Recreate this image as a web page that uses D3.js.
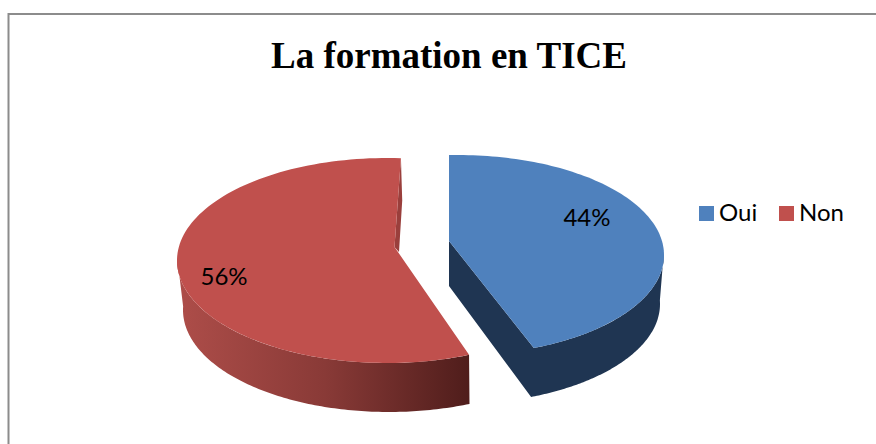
<!DOCTYPE html>
<html><head><meta charset="utf-8">
<script src="https://cdn.jsdelivr.net/npm/d3@7"></script>
<style>html,body{margin:0;padding:0;background:#fff;overflow:hidden}svg{display:block}</style>
</head><body><div id="c"></div>
<script>
const categories = ["Oui", "Non"];
const values = [44, 56];
const colors = ["#4F81BD", "#C0504D"];
const titleText = "La formation en TICE";

const W = 876, H = 444;
const svg = d3.select("#c").append("svg").attr("width", W).attr("height", H);
const defs = svg.append("defs");
const grad = defs.append("linearGradient").attr("id", "redWall").attr("gradientUnits", "userSpaceOnUse")
  .attr("x1", 180).attr("x2", 470).attr("y1", 0).attr("y2", 0);
grad.append("stop").attr("offset", 0).attr("stop-color", "#AD4D49");
grad.append("stop").attr("offset", 0.5).attr("stop-color", "#893A37");
grad.append("stop").attr("offset", 1).attr("stop-color", "#4F1D1B");

// frame
svg.append("path").attr("d", `M8.5,${H}V14H${W}`).attr("fill", "none").attr("stroke", "#8C8C8C").attr("stroke-width", 2);

svg.append("text").attr("x", 449).attr("y", 68).attr("text-anchor", "middle")
  .attr("font-family", "Liberation Serif").attr("font-weight", "bold").attr("font-size", 37).attr("fill", "#000").text(titleText);

// pie layout in data order, clockwise from the top
const arcs = d3.pie().sort(null)(values);

// perspective view of each exploded slice
const views = [
  { top: {cx:458, cy:255, rx:206, ry:100}, low: {cx:456, cy:304, rx:204, ry:100},
    apex:[449,241], lowApex:[449,286], rim:[-2.5,158.4], wall:[158.4,88], wallFill:"#1F3552", label:[0.626,-0.37] },
  { top: {cx:387, cy:260.5, rx:210, ry:102.5}, low: {cx:389, cy:310, rx:206, ry:102},
    apex:[394.5,247], lowApex:[399,252], rim:[157,363.8], wall:[157,272], wallFill:"url(#redWall)", label:[-0.776,0.157] }
];
const rad = d => d * Math.PI / 180;
const onEllipse = (e, deg) => [e.cx + e.rx * Math.sin(rad(deg)), e.cy - e.ry * Math.cos(rad(deg))];
const sample = (a, b) => d3.range(0, 121).map(i => a + (b - a) * i / 120);
const line = d3.line();

const order = [1, 0];
order.forEach(i => {
  const v = views[i], d = arcs[i];
  const rimScale = d3.scaleLinear().domain([d.startAngle, d.endAngle]).range(v.rim);
  const rimPts = sample(d.startAngle, d.endAngle).map(a => onEllipse(v.top, rimScale(a)));
  const g = svg.append("g");
  const upper = sample(v.wall[0], v.wall[1]).map(a => onEllipse(v.top, a));
  const lower = sample(v.wall[1], v.wall[0]).map(a => onEllipse(v.low, a));
  if (i === 0) {
    // blue: cut face and outer wall as one shape
    g.append("path").attr("d", line(upper.concat(lower, [v.lowApex, v.apex])) + "Z").attr("fill", v.wallFill);
  } else {
    g.append("path").attr("d", line(upper.concat(lower)) + "Z").attr("fill", v.wallFill);
    // thin cut face at the back of the red slice
    const s = rimPts[rimPts.length - 1];
    g.append("path").attr("d", line([s, [s[0] + 1.3, s[1] + 42], v.lowApex, v.apex]) + "Z").attr("fill", "#9A3F3C");
  }
  // top face
  g.append("path").attr("d", line(rimPts.concat([v.apex])) + "Z").attr("fill", colors[i]);
});

// data labels
views.forEach((v, i) => {
  svg.append("text")
    .attr("x", v.top.cx + v.top.rx * v.label[0]).attr("y", v.top.cy + v.top.ry * v.label[1] + 8)
    .attr("text-anchor", "middle").attr("font-family", "Lato").attr("font-size", 24).attr("fill", "#000")
    .text(values[i] + "%");
});

// legend
const legendX = d3.scaleOrdinal().domain(categories).range([699, 779]);
const lg = svg.append("g").selectAll("g").data(categories).join("g")
  .attr("transform", d => `translate(${legendX(d)},206)`);
lg.append("rect").attr("width", 15).attr("height", 15).attr("fill", (d, i) => colors[i]);
lg.append("text").attr("x", 20).attr("y", 15).attr("font-family", "Lato").attr("font-size", 24).attr("fill", "#000").text(d => d);
</script></body></html>
